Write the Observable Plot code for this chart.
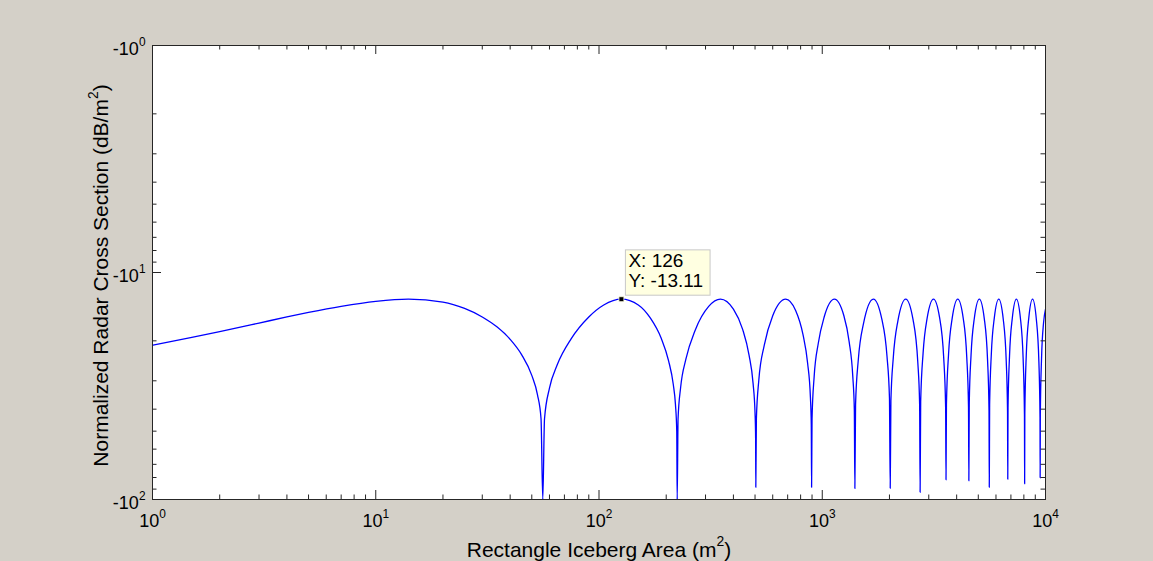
<!DOCTYPE html>
<html>
<head>
<meta charset="utf-8">
<script src="https://cdn.jsdelivr.net/npm/d3@7"></script>
<script src="https://cdn.jsdelivr.net/npm/@observablehq/plot@0.6"></script>
<style>
  html, body { margin: 0; padding: 0; background: #d4d0c8; }
  #chart { width: 1153px; height: 561px; }
</style>
</head>
<body>
<div id="chart"></div>
<script>
// Rectangle iceberg area (m^2)
const area = [
  1, 1.5, 2, 3, 4, 5, 7, 10, 14, 20, 25, 30, 35, 40, 45, 50, 53, 55, 56,
  57, 60, 65, 75, 90, 105, 126, 150, 170, 190, 205, 215, 220, 223, 224,
  226, 232, 245, 270, 310, 350, 400, 440, 470, 490, 500, 503, 504,
  507, 520, 550, 600, 686, 760, 820, 860, 885, 893, 896,
  900, 920, 960, 1020, 1134, 1250, 1320, 1370, 1392, 1400,
  1410, 1450, 1530, 1694, 1850, 1950, 2000, 2016,
  2030, 2080, 2180, 2366, 2550, 2680, 2730, 2744,
  2760, 2830, 2950, 3150, 3350, 3500, 3570, 3584,
  3600, 3680, 3820, 4046, 4280, 4440, 4520, 4536,
  4555, 4640, 4800, 5054, 5320, 5500, 5585, 5600,
  5620, 5720, 5900, 6174, 6470, 6670, 6760, 6776,
  6795, 6900, 7100, 7406, 7720, 7940, 8050, 8064,
  8080, 8200, 8420, 8750, 9100, 9340, 9450, 9464,
  9480, 9600, 9800, 10000
];
// Normalized radar cross section (dB/m^2)
const rcs = [
  -20.9, -19.3, -18.2, -16.7, -15.7, -15.0, -14.1, -13.4, -13.1, -13.5, -14.4, -15.7, -17.4, -19.7, -23.0, -28.4, -34.5, -44.1, -100,
  -44.2, -32.3, -25.5, -19.6, -15.7, -13.9, -13.11, -13.9, -15.9, -19.5, -24.5, -31.0, -38.1, -50.1, -100,
  -44.2, -32.2, -24.1, -17.9, -14.1, -13.1, -14.5, -17.8, -23.1, -30.8, -41.7, -53.7, -88.3,
  -44.1, -29.7, -20.9, -15.5, -13.1, -14.7, -18.8, -25.1, -35.4, -46.7, -88.3,
  -44.2, -28.7, -20.5, -15.7, -13.1, -15.5, -20.2, -28.6, -40.1, -89.4,
  -38.1, -24.3, -16.8, -13.1, -16.1, -23.4, -35.6, -89.2,
  -36.8, -23.8, -16.4, -13.1, -16.1, -25.0, -38.1, -92.9,
  -37.0, -22.6, -15.9, -13.1, -15.7, -23.8, -39.3, -81.9,
  -38.1, -22.8, -15.9, -13.1, -15.9, -23.7, -39.2, -82.7,
  -37.6, -23.1, -15.9, -13.1, -16.0, -24.2, -40.7, -88.3,
  -38.1, -22.8, -15.8, -13.1, -16.1, -24.6, -41.0, -81.4,
  -39.3, -23.3, -15.9, -13.1, -15.9, -24.0, -42.9, -85.3,
  -41.6, -23.2, -15.8, -13.1, -16.1, -24.7, -43.6, -80.2,
  -42.3, -23.9, -16.7, -14.5
];
// Data tip
const tipX = [126];
const tipY = [-13.11];

// Tick values
const xMajor = [1, 10, 100, 1000, 10000];
const xMinor = [2, 3, 4, 5, 6, 7, 8, 9, 20, 30, 40, 50, 60, 70, 80, 90,
  200, 300, 400, 500, 600, 700, 800, 900, 2000, 3000, 4000, 5000, 6000, 7000, 8000, 9000];
const yMajor = [1, 10, 100];
const yMinor = [2, 3, 4, 5, 6, 7, 8, 9, 20, 30, 40, 50, 60, 70, 80, 90];

const xLabel = "Rectangle Iceberg Area (m^2)";
const yLabel = "Normalized Radar Cross Section (dB/m^2)";

const data = area.map((a, i) => ({area: a, rcs: rcs[i]}));
const tip = tipX.map((x, i) => ({x, y: tipY[i]}));

const W = 1153, H = 561;
const mL = 152, mR = 108, mT = 45, mB = 62;
const fw = W - mL - mR, fh = H - mT - mB;
const axisColor = "#262626";
const majorLen = 9, minorLen = 4.5;

const plot = Plot.plot({
  width: W, height: H,
  marginLeft: mL, marginRight: mR, marginTop: mT, marginBottom: mB,
  style: {background: "#d4d0c8", fontFamily: "'Liberation Sans', Arial, sans-serif", fontSize: "18px", color: "#000"},
  x: {type: "log", domain: [1, 10000]},
  y: {type: "log", domain: [1, 100], reverse: true},
  marks: [
    Plot.frame({fill: "white"}),
    Plot.line(data, {x: "area", y: d => -d.rcs, stroke: "#0000ff", strokeWidth: 1.3, curve: "monotone-x", clip: true}),
    // bottom & top ticks (inside)
    Plot.tickX(xMajor, {x: d => d, insetTop: fh - majorLen, stroke: axisColor}),
    Plot.tickX(xMajor, {x: d => d, insetBottom: fh - majorLen, stroke: axisColor}),
    Plot.tickX(xMinor, {x: d => d, insetTop: fh - minorLen, stroke: axisColor}),
    Plot.tickX(xMinor, {x: d => d, insetBottom: fh - minorLen, stroke: axisColor}),
    // left & right ticks (inside)
    Plot.tickY(yMajor, {y: d => d, insetRight: fw - majorLen, stroke: axisColor}),
    Plot.tickY(yMajor, {y: d => d, insetLeft: fw - majorLen, stroke: axisColor}),
    Plot.tickY(yMinor, {y: d => d, insetRight: fw - minorLen, stroke: axisColor}),
    Plot.tickY(yMinor, {y: d => d, insetLeft: fw - minorLen, stroke: axisColor}),
    Plot.frame({stroke: axisColor}),
    Plot.axisX({ticks: xMajor, tickSize: 0, tickPadding: 15, label: null, fontSize: 18,
      tickFormat: d => "10^" + Math.round(Math.log10(d)), fill: "#000"}),
    Plot.axisY({ticks: yMajor, tickSize: 0, tickPadding: 7, label: null, dy: 4, fontSize: 18,
      tickFormat: d => "-10^" + Math.round(Math.log10(d)), fill: "#000"}),
    Plot.text([xLabel], {text: d => d, frameAnchor: "bottom", textAnchor: "middle", lineAnchor: "bottom", dy: 57, fontSize: 21, fill: "#000"}),
    Plot.text([yLabel], {text: d => d, frameAnchor: "left", textAnchor: "middle", lineAnchor: "middle", rotate: -90, dx: -51, dy: 3, fontSize: 21, fill: "#000"}),
    // data tip
    Plot.text(tip, {x: "x", y: d => -d.y, text: d => `X: ${d.x}\nY: ${d.y.toFixed(2)}`,
      textAnchor: "start", lineAnchor: "bottom", dx: 7, dy: -12, lineHeight: 1.07, fontSize: 19, fill: "#000"}),
    Plot.dot(tip, {x: "x", y: d => -d.y, symbol: "square", r: 2.8, fill: "#000", stroke: "#ffffe1", strokeWidth: 0.8})
  ]
});

document.getElementById("chart").appendChild(plot);

// Superscripts: turn "a^b" into a raised smaller glyph
plot.querySelectorAll("text").forEach(t => {
  if (t.children.length) return;
  const s = t.textContent;
  if (!s.includes("^")) return;
  const fs = parseFloat(getComputedStyle(t).fontSize) || 18;
  const parts = s.split(/\^(\S)/);
  t.textContent = "";
  const shift = 0.5 * fs;
  let raised = false;
  parts.forEach((p, i) => {
    if (!p) { return; }
    const ts = document.createElementNS("http://www.w3.org/2000/svg", "tspan");
    ts.textContent = p;
    if (i % 2 === 1) {
      ts.setAttribute("font-size", (0.66 * fs).toFixed(1));
      ts.setAttribute("dy", (-shift).toFixed(1));
      raised = true;
    } else if (raised) {
      ts.setAttribute("dy", shift.toFixed(1));
      raised = false;
    }
    t.appendChild(ts);
  });
});

// Data tip box behind its text
plot.querySelectorAll("text").forEach(t => {
  if (!t.textContent.startsWith("X:")) return;
  const b = t.getBBox();
  const r = document.createElementNS("http://www.w3.org/2000/svg", "rect");
  r.setAttribute("x", b.x - 3);
  r.setAttribute("y", b.y);
  r.setAttribute("width", b.width + 10);
  r.setAttribute("height", b.height + 4);
  r.setAttribute("fill", "#ffffe1");
  r.setAttribute("stroke", "#c8c8c8");
  r.setAttribute("transform", t.getAttribute("transform") || "");
  t.parentNode.insertBefore(r, t);
});
</script>
</body>
</html>
